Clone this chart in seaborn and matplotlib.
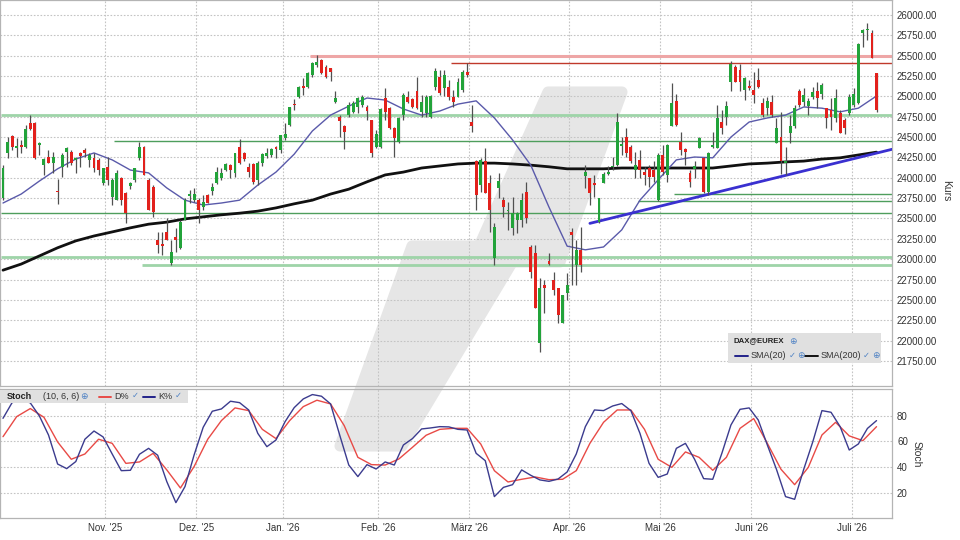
import matplotlib.pyplot as plt
import numpy as np
import pandas as pd
import seaborn as sns
from matplotlib.patches import Polygon, Rectangle
from matplotlib.lines import Line2D

sns.set_theme(style="white")
plt.rcParams["font.family"] = ["Liberation Sans", "DejaVu Sans"]

# Xetra-Handelstage Okt. 2025 - Juli 2026
holidays = ["2025-12-24", "2025-12-25", "2025-12-26", "2025-12-31",
            "2026-01-01", "2026-04-03", "2026-04-06", "2026-05-01"]
dates = pd.bdate_range("2025-10-01", "2026-07-08").drop(pd.to_datetime(holidays))

opens = [23750, 24300, 24515, 24370, 24405, 24380, 24675, 24675, 24405, 24155,
         24260, 24180, 23840, 24135, 24315, 24320, 24220, 24300, 24340, 24220,
         24240, 24220, 23930, 24135, 23770, 23725, 23995, 23810, 23900, 23975,
         24240, 24380, 23975, 23885, 23235, 23185, 23340, 22950, 23275, 23135,
         23480, 23775, 23725, 23725, 23645, 23790, 23840, 23930, 23995, 24095,
         24155, 24055, 24375, 24300, 24130, 24170, 23975, 24180, 24270, 24280,
         24380, 24340, 24485, 24650, 24905, 24990, 25130, 25120, 25265, 25385,
         25445, 25365, 25345, 24935, 24750, 24635, 24770, 24810, 24875, 24895,
         24875, 24710, 24375, 24380, 24975, 24855, 24610, 24445, 24770, 24995,
         24965, 25060, 24810, 24790, 24750, 25110, 25240, 25100, 25110, 24995,
         24995, 25080, 25305, 24690, 24200, 23910, 24200, 23930, 23010, 23870,
         23725, 23590, 23380, 23480, 23480, 23830, 23155, 23070, 21965, 22685,
         22980, 22745, 22640, 22210, 22580, 23340, 22930, 23115, 24020, 23995,
         23940, 23460, 23940, 24045, 24130, 24155, 24390, 24505, 24375, 24095,
         24220, 24075, 24115, 24095, 23725, 24280, 24035, 24630, 24945, 24445,
         24355, 24055, 24110, 24370, 24240, 23830, 24380, 24360, 24690, 24750,
         25180, 25365, 25325, 25080, 25130, 25080, 25200, 24915, 24855, 24935,
         24425, 24505, 24180, 24545, 24635, 25065, 24935, 24880, 24995, 25065,
         25025, 24855, 24835, 24730, 24790, 24710, 24790, 24895, 24915, 25775,
         25810, 25775, 25285]
highs = [24155, 24495, 24525, 24485, 24465, 24650, 24770, 24685, 24445, 24240,
         24340, 24320, 23985, 24300, 24380, 24340, 24260, 24320, 24360, 24300,
         24300, 24240, 24120, 24260, 23995, 24095, 24015, 23830, 23950, 24120,
         24445, 24385, 23995, 23910, 23340, 23340, 23500, 23235, 23380, 23480,
         23750, 23850, 23870, 23750, 23790, 23795, 23930, 24135, 24115, 24180,
         24170, 24300, 24475, 24320, 24185, 24180, 24200, 24300, 24360, 24360,
         24390, 24525, 24675, 24875, 24965, 25130, 25220, 25305, 25425, 25510,
         25455, 25385, 25345, 25070, 24770, 24650, 24935, 24945, 24995, 25015,
         24895, 24710, 24585, 24855, 25100, 24875, 24620, 24750, 25040, 25070,
         24975, 25235, 25015, 25015, 25015, 25350, 25325, 25325, 25200, 25080,
         25225, 25325, 25405, 24895, 24220, 24240, 24360, 24035, 23440, 24055,
         23770, 23705, 23770, 23585, 23810, 23950, 23175, 23175, 22765, 22745,
         23080, 22845, 22645, 22560, 22825, 23380, 23235, 23400, 24155, 23995,
         24035, 23750, 24065, 24145, 24260, 24790, 24505, 24610, 24405, 24320,
         24340, 24135, 24155, 24200, 24300, 24405, 24410, 25160, 25025, 24565,
         24360, 24095, 24200, 24505, 24260, 24315, 24565, 24895, 24835, 24945,
         25435, 25385, 25395, 25240, 25200, 25305, 25345, 24975, 24995, 25015,
         24730, 24810, 24380, 24770, 24895, 25090, 25100, 24985, 25120, 25180,
         25160, 24860, 24975, 25090, 24835, 24740, 25025, 25100, 25650, 25830,
         25900, 25815, 25285]
lows = [23725, 24240, 24340, 24260, 24300, 24370, 24590, 24235, 24280, 24035,
        24180, 24055, 23680, 24015, 24135, 24155, 24055, 24135, 24260, 24135,
        24075, 24035, 23910, 23910, 23665, 23725, 23665, 23440, 23860, 23950,
        24220, 24035, 23605, 23520, 23070, 23050, 23235, 22930, 23090, 23130,
        23480, 23685, 23705, 23440, 23605, 23685, 23790, 23925, 23975, 24085,
        23995, 24005, 24170, 24210, 24015, 23925, 23910, 24145, 24240, 24250,
        24240, 24300, 24465, 24635, 24835, 24975, 25015, 25105, 25235, 25365,
        25275, 25220, 25195, 24915, 24505, 24350, 24750, 24790, 24790, 24875,
        24710, 24260, 24360, 24360, 24710, 24595, 24260, 24430, 24710, 24915,
        24855, 24840, 24750, 24750, 24735, 25080, 25015, 25000, 24955, 24875,
        24990, 25055, 25240, 24565, 23605, 23830, 23810, 23340, 22930, 23750,
        23520, 23360, 23295, 23320, 23400, 23440, 22765, 22395, 21865, 22335,
        22930, 22560, 22210, 22210, 22500, 22685, 22685, 22845, 23870, 23665,
        23770, 23450, 23930, 24035, 24095, 24145, 24280, 24260, 24180, 23995,
        23995, 23910, 23890, 23950, 23715, 24035, 23950, 24630, 24630, 24280,
        24155, 23890, 23995, 24360, 23810, 23790, 24360, 24360, 24535, 24650,
        25060, 25180, 25065, 24955, 25080, 24915, 25100, 24750, 24770, 24750,
        24425, 24045, 24035, 24425, 24610, 24875, 24885, 24770, 24970, 24855,
        24970, 24610, 24585, 24690, 24545, 24535, 24770, 24875, 24905, 25610,
        25695, 25470, 24810]
closes = [24120, 24445, 24380, 24395, 24380, 24600, 24595, 24240, 24425, 24225,
          24180, 24260, 23820, 24280, 24360, 24180, 24240, 24270, 24300, 24280,
          24115, 24095, 24115, 23975, 23975, 24055, 23725, 23565, 23940, 24115,
          24380, 24035, 23605, 23585, 23175, 23160, 23235, 23090, 23235, 23460,
          23725, 23800, 23800, 23605, 23705, 23685, 23885, 24075, 24055, 24170,
          24095, 24300, 24180, 24225, 24075, 23950, 24185, 24290, 24300, 24350,
          24350, 24525, 24535, 24875, 24895, 25120, 25100, 25285, 25405, 25425,
          25285, 25240, 25305, 24975, 24700, 24565, 24895, 24915, 24975, 24990,
          24825, 24300, 24540, 24840, 24810, 24610, 24485, 24730, 25015, 24935,
          24875, 24855, 24935, 24995, 25005, 25315, 25040, 25265, 24995, 24935,
          25180, 25305, 25265, 24630, 23790, 24220, 23810, 23605, 23400, 23965,
          23645, 23600, 23565, 23565, 23725, 23500, 22845, 22395, 22640, 22650,
          22940, 22620, 22315, 22560, 22685, 23295, 23115, 22930, 24075, 23810,
          23910, 23750, 24045, 24065, 24145, 24690, 24415, 24310, 24200, 24155,
          24095, 24035, 24015, 24015, 24280, 24075, 24405, 24915, 24650, 24340,
          24320, 23950, 24150, 24485, 23830, 24300, 24405, 24740, 24610, 24885,
          25395, 25180, 25180, 25220, 25105, 25015, 25120, 24770, 24945, 24770,
          24610, 24200, 24205, 24630, 24855, 24895, 25015, 24945, 25050, 24975,
          25140, 24730, 24750, 24975, 24545, 24610, 24995, 25025, 25640, 25815,
          25820, 25475, 24835]

sma20 = [23690, 23800, 23960, 24110, 24230, 24305, 24220, 24095, 24060, 23875,
         23725, 23665, 23690, 23725, 23910, 24070, 24290, 24575, 24770, 24880,
         24980, 24955, 24845, 24770, 24820, 24905, 24945, 24735, 24465, 24155,
         23640, 23160, 23115, 23150, 23360, 23725, 23975, 24220, 24255, 24245,
         24500, 24685, 24735, 24770, 24870, 24855, 24810, 24855, 25005]
sma200 = [22865, 22940, 23040, 23140, 23225, 23285, 23335, 23385, 23430, 23455,
          23495, 23520, 23545, 23565, 23590, 23630, 23680, 23725, 23800, 23860,
          23950, 24035, 24070, 24120, 24145, 24170, 24180, 24180, 24170, 24155,
          24135, 24110, 24110, 24110, 24120, 24120, 24120, 24120, 24120, 24120,
          24145, 24170, 24180, 24195, 24205, 24230, 24245, 24280, 24315]

stoch_k = [77.9, 90.1, 92.5, 89.9, 79.7, 64.9, 42.3, 38.7, 44.2, 61.6,
           68.0, 63.4, 50.1, 37.1, 37.4, 49.9, 54.5, 49.1, 28.6, 12.2,
           24.7, 49.3, 70.9, 83.4, 85.2, 91.2, 90.1, 84.4, 66.2, 55.8,
           61.0, 75.3, 86.2, 93.0, 96.4, 95.1, 89.1, 64.9, 41.5, 32.5,
           41.8, 38.4, 43.9, 41.5, 57.1, 62.1, 69.6, 70.4, 71.4, 71.2,
           69.3, 68.8, 50.6, 44.9, 16.9, 24.1, 26.2, 37.7, 33.5, 29.9,
           28.8, 30.6, 36.1, 50.1, 71.4, 84.4, 83.9, 87.5, 89.4, 83.9,
           66.2, 42.8, 31.9, 34.5, 54.5, 58.4, 46.0, 30.9, 30.4, 50.6,
           72.7, 84.9, 86.0, 76.6, 57.1, 38.2, 16.9, 14.8, 38.2, 59.7,
           83.9, 82.6, 71.4, 53.2, 57.9, 70.0, 76.1]
stoch_d = [63.6, 79.2, 85.5, 78.7, 59.5, 46.0, 50.1, 61.6, 58.4, 42.8,
           43.9, 50.6, 37.7, 23.6, 40.3, 61.6, 76.1, 86.0, 83.9, 69.3,
           62.1, 76.1, 87.0, 92.0, 89.1, 72.2, 47.5, 41.8, 41.5, 46.2,
           55.3, 64.7, 69.3, 70.1, 70.1, 57.9, 37.1, 28.3, 30.4, 32.2,
           30.1, 30.4, 37.1, 58.4, 74.8, 84.4, 84.4, 69.3, 46.0, 39.7,
           51.7, 47.5, 37.4, 47.5, 70.1, 77.7, 58.4, 38.2, 26.2, 39.7,
           64.9, 74.8, 64.2, 60.5, 71.4]

# horizontale Marken: Kurs, ab Datum
levels = [25500, 25405, 24770, 24450, 23800, 23715, 23565, 23030, 22930]
level_from = ["2026-01-12", "2026-02-24", "2025-10-01", "2025-11-05", "2026-05-07",
              "2026-04-24", "2025-10-01", "2025-10-01", "2025-11-13"]
level_kind = ["light_red", "red", "light_green", "green", "green",
              "green", "green", "light_green", "light_green"]
# Aufwaertstrend
trend_from = "2026-04-09"
trend_start = 23440
trend_per_day = 13.7

month_labels = ["Nov. '25", "Dez. '25", "Jan. '26", "Feb. '26", "März '26",
                "Apr. '26", "Mai '26", "Juni '26", "Juli '26"]

df = pd.DataFrame({"date": dates, "open": opens, "high": highs, "low": lows, "close": closes})
df["i"] = np.arange(len(df))
up = df["close"] >= df["open"]

W, H = 960, 540
fig = plt.figure(figsize=(9.6, 5.4), dpi=100)
fig.patch.set_facecolor("white")


def fx(x):
    return x / W


def fy(y):
    return 1 - y / H


ax = fig.add_axes([0, fy(386), fx(892), 386 / H])
ax2 = fig.add_axes([0, fy(518.3), fx(892), (518.3 - 389.3) / H])
for a in (ax, ax2):
    a.set_facecolor("none")
    for s in a.spines.values():
        s.set_color("#b4b4b4")
        s.set_linewidth(0.9)

xmin, xmax = -0.66, 195.4

# Wasserzeichen
wm = dict(closed=True, facecolor="#e6e6e6", edgecolor="#e6e6e6", lw=8,
          joinstyle="round", transform=fig.transFigure, zorder=-5)
upper = [(548, 92), (622, 92), (560, 262), (472, 262)]
lower = [(412, 246), (522, 246), (402, 446), (340, 446)]
fig.add_artist(Polygon([(fx(x), fy(y)) for x, y in upper], **wm))
fig.add_artist(Polygon([(fx(x), fy(y)) for x, y in lower], **wm))

# Monatsgrenzen
month_start = df.groupby(df["date"].dt.to_period("M"))["i"].min().values[1:]
month_pos = month_start - 0.5
grid_kw = dict(color="#c4c4c4", lw=0.8, linestyle=(0, (1.5, 1.5)), zorder=0)

# --- Kurschart ---
ax.set_xlim(xmin, xmax)
ax.set_ylim(21442, 26184)
yt = np.arange(21750, 26001, 250)
for v in yt:
    ax.axhline(v, **grid_kw)
for m in month_pos:
    ax.axvline(m, **grid_kw)

styles = {
    "light_red": dict(color="#eea6a6", lw=2.2),
    "red": dict(color="#c0392b", lw=1.0),
    "light_green": dict(color="#9ed4a8", lw=2.0),
    "green": dict(color="#4e9e5c", lw=1.0),
}
for lv, start, kind in zip(levels, level_from, level_kind):
    s = dates.get_loc(pd.Timestamp(start)) - 0.5
    ax.hlines(lv, max(s, xmin), xmax, zorder=1, **styles[kind])

sma_x = df["i"].values[::4]
sns.lineplot(x=sma_x, y=sma200, ax=ax, color="#111111", lw=2.0, zorder=2)
sns.lineplot(x=sma_x, y=sma20, ax=ax, color="#5a5aaa", lw=1.0, zorder=2)

t0 = dates.get_loc(pd.Timestamp(trend_from))
ax.plot([t0, xmax], [trend_start, trend_start + trend_per_day * (xmax - t0)],
        color="#3a30d0", lw=2.0, zorder=3)

ax.vlines(df["i"], df["low"], df["high"], color="#505050", lw=0.9, zorder=4)
body = (df["close"] - df["open"]).abs().clip(lower=12)
ax.bar(df["i"], body, bottom=df[["open", "close"]].min(axis=1), width=0.64,
       color=np.where(up, "#22a33a", "#e2211c"), zorder=5, linewidth=0)

ax.yaxis.tick_right()
ax.set_yticks(yt)
ax.set_yticklabels([f"{v:.2f}" for v in yt])
ax.set_xticks(month_pos)
ax.set_xticklabels([])
ax.tick_params(axis="both", length=0, labelsize=7, pad=3.6, colors="#333333")
ax.grid(False)

# --- Stochastik ---
ax2.set_xlim(xmin, xmax)
ax2.set_ylim(0, 100.5)
for v in [20, 40, 60, 80]:
    ax2.axhline(v, **grid_kw)
for m in month_pos:
    ax2.axvline(m, **grid_kw)
sns.lineplot(x=df["i"].values[::3], y=stoch_d, ax=ax2, color="#e84a46", lw=1.0, zorder=3)
sns.lineplot(x=df["i"].values[::2], y=stoch_k, ax=ax2, color="#3b3b8e", lw=1.0, zorder=4)
ax2.yaxis.tick_right()
ax2.set_yticks([20, 40, 60, 80])
ax2.set_xticks(month_pos)
ax2.set_xticklabels(month_labels)
ax2.tick_params(axis="both", length=0, labelsize=7, pad=3.6, colors="#333333")
ax2.grid(False)

fig.text(fx(946), fy(191), "Kurs", rotation=-90, ha="center", va="center",
         fontsize=7.5, color="#333333")
fig.text(fx(917), fy(454), "Stoch", rotation=-90, ha="center", va="center",
         fontsize=7.5, color="#333333")

# Legende Kurschart
icon = "#4f82c4"
fig.add_artist(Rectangle((fx(728), fy(363)), fx(881) - fx(728), (363 - 333) / H,
                         transform=fig.transFigure, facecolor="#e0e0e0", edgecolor="none", zorder=6))
fig.text(fx(734), fy(341), "DAX@EUREX", fontsize=5.6, weight="bold", va="center", color="#222222", zorder=7)
fig.text(fx(789), fy(341), "⊕", fontsize=6.5, va="center", color=icon, zorder=7)
fig.add_artist(Line2D([fx(735), fx(748)], [fy(356)] * 2, color="#22228a", lw=1.4, zorder=7))
fig.text(fx(751), fy(356), "SMA(20)", fontsize=6.5, va="center", color="#333333", zorder=7)
fig.text(fx(789), fy(356), "✓", fontsize=6, va="center", color=icon, zorder=7)
fig.text(fx(797), fy(356), "⊕", fontsize=6.5, va="center", color=icon, zorder=7)
fig.add_artist(Line2D([fx(805), fx(818)], [fy(356)] * 2, color="#111111", lw=1.4, zorder=7))
fig.text(fx(821), fy(356), "SMA(200)", fontsize=6.5, va="center", color="#333333", zorder=7)
fig.text(fx(863), fy(356), "✓", fontsize=6, va="center", color=icon, zorder=7)
fig.text(fx(872), fy(356), "⊕", fontsize=6.5, va="center", color=icon, zorder=7)

# Legende Stochastik
fig.add_artist(Rectangle((0, fy(403)), fx(188), 13 / H, transform=fig.transFigure,
                         facecolor="#e0e0e0", edgecolor="none", zorder=6))
fig.text(fx(7), fy(396.5), "Stoch", fontsize=6.5, weight="bold", va="center", color="#222222", zorder=7)
fig.text(fx(43), fy(396.5), "(10, 6, 6)", fontsize=6.5, va="center", color="#333333", zorder=7)
fig.text(fx(80), fy(396.5), "⊕", fontsize=6.5, va="center", color=icon, zorder=7)
fig.add_artist(Line2D([fx(99), fx(111)], [fy(396.5)] * 2, color="#e84a46", lw=1.4, zorder=7))
fig.text(fx(114), fy(396.5), "D%", fontsize=6.5, va="center", color="#333333", zorder=7)
fig.text(fx(132), fy(396.5), "✓", fontsize=6, va="center", color=icon, zorder=7)
fig.add_artist(Line2D([fx(143), fx(155)], [fy(396.5)] * 2, color="#22228a", lw=1.4, zorder=7))
fig.text(fx(158), fy(396.5), "K%", fontsize=6.5, va="center", color="#333333", zorder=7)
fig.text(fx(175), fy(396.5), "✓", fontsize=6, va="center", color=icon, zorder=7)

fig.savefig("out.png", dpi=100)
